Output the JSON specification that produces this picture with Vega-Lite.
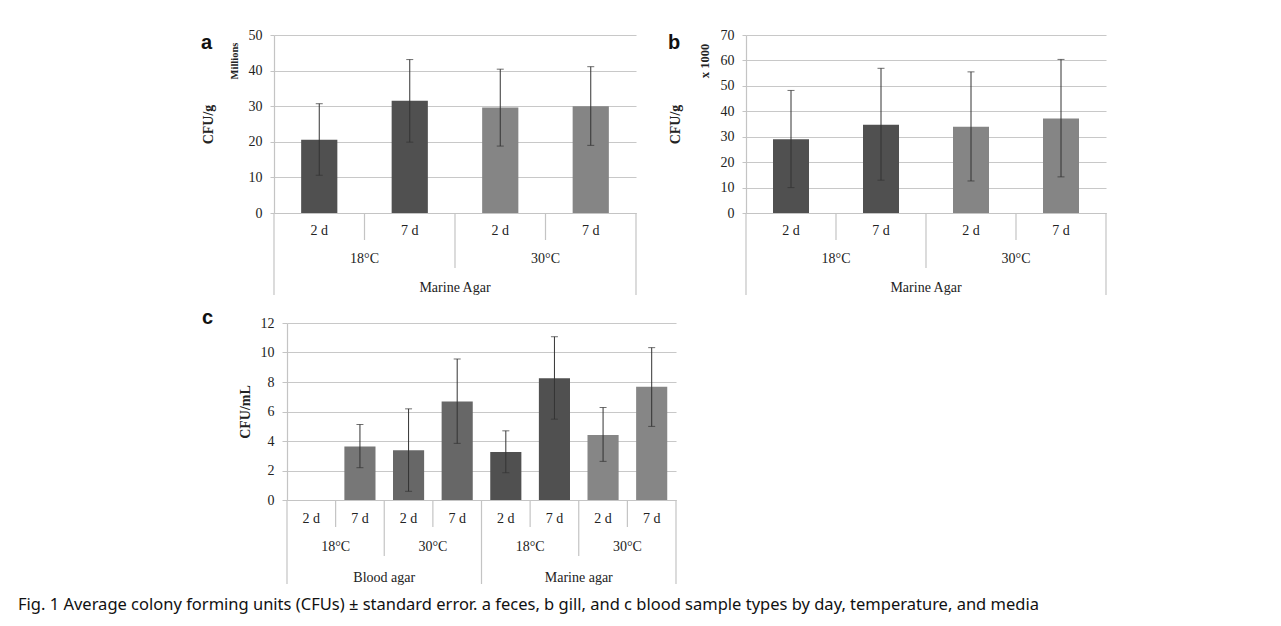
{
  "$schema": "https://vega.github.io/schema/vega-lite/v6.json",
  "padding": {"left": 18, "top": 28, "right": 5, "bottom": 5},
  "background": "white",
  "config": {
    "view": {"stroke": null},
    "axis": {"grid": false},
    "axisY": {"grid": true, "gridColor": "#c8c8c8", "gridWidth": 1.2, "domain": true, "domainColor": "#c4c4c4", "domainWidth": 1.2,
              "tickColor": "#c4c4c4", "labelFont": "Liberation Serif", "labelFontSize": 14, "labelColor": "#222", "labelOverlap": false,
              "titleFont": "Liberation Serif", "titleFontSize": 14, "titleFontWeight": "bold", "titleColor": "#222"},
    "font": "Liberation Serif"
  },
  "datasets": {
    "a": [
      {"media": "Marine Agar", "temp": "18°C", "day": "2 d", "key": "18°C 2 d", "mean": 20.6, "lo": 10.6, "hi": 30.7},
      {"media": "Marine Agar", "temp": "18°C", "day": "7 d", "key": "18°C 7 d", "mean": 31.5, "lo": 19.9, "hi": 43.1},
      {"media": "Marine Agar", "temp": "30°C", "day": "2 d", "key": "30°C 2 d", "mean": 29.6, "lo": 18.8, "hi": 40.4},
      {"media": "Marine Agar", "temp": "30°C", "day": "7 d", "key": "30°C 7 d", "mean": 30.0, "lo": 19.0, "hi": 41.1}
    ],
    "b": [
      {"media": "Marine Agar", "temp": "18°C", "day": "2 d", "key": "18°C 2 d", "mean": 29.0, "lo": 10.0, "hi": 48.2},
      {"media": "Marine Agar", "temp": "18°C", "day": "7 d", "key": "18°C 7 d", "mean": 34.7, "lo": 12.9, "hi": 56.9},
      {"media": "Marine Agar", "temp": "30°C", "day": "2 d", "key": "30°C 2 d", "mean": 33.9, "lo": 12.6, "hi": 55.5},
      {"media": "Marine Agar", "temp": "30°C", "day": "7 d", "key": "30°C 7 d", "mean": 37.2, "lo": 14.2, "hi": 60.4}
    ],
    "c": [
      {"media": "Blood agar", "temp": "18°C", "day": "2 d", "key": "Blood agar 18°C 2 d", "grp": "Blood agar 18°C", "mean": 0, "lo": null, "hi": null},
      {"media": "Blood agar", "temp": "18°C", "day": "7 d", "key": "Blood agar 18°C 7 d", "grp": "Blood agar 18°C", "mean": 3.63, "lo": 2.19, "hi": 5.12},
      {"media": "Blood agar", "temp": "30°C", "day": "2 d", "key": "Blood agar 30°C 2 d", "grp": "Blood agar 30°C", "mean": 3.38, "lo": 0.59, "hi": 6.18},
      {"media": "Blood agar", "temp": "30°C", "day": "7 d", "key": "Blood agar 30°C 7 d", "grp": "Blood agar 30°C", "mean": 6.68, "lo": 3.84, "hi": 9.56},
      {"media": "Marine agar", "temp": "18°C", "day": "2 d", "key": "Marine agar 18°C 2 d", "grp": "Marine agar 18°C", "mean": 3.25, "lo": 1.85, "hi": 4.69},
      {"media": "Marine agar", "temp": "18°C", "day": "7 d", "key": "Marine agar 18°C 7 d", "grp": "Marine agar 18°C", "mean": 8.25, "lo": 5.48, "hi": 11.07},
      {"media": "Marine agar", "temp": "30°C", "day": "2 d", "key": "Marine agar 30°C 2 d", "grp": "Marine agar 30°C", "mean": 4.40, "lo": 2.62, "hi": 6.27},
      {"media": "Marine agar", "temp": "30°C", "day": "7 d", "key": "Marine agar 30°C 7 d", "grp": "Marine agar 30°C", "mean": 7.67, "lo": 4.99, "hi": 10.33}
    ],
    "noteA": [{"note": "Millions"}],
    "noteB": [{"note": "x 1000"}]
  },
  "title": {
    "text": "Fig. 1 Average colony forming units (CFUs) ± standard error. a feces, b gill, and c blood sample types by day, temperature, and media",
    "orient": "bottom",
    "anchor": "start",
    "frame": "bounds",
    "font": "Noto Sans",
    "fontSize": 16.5,
    "fontWeight": "normal",
    "color": "#111",
    "offset": 12,
    "dx": -183
  },
  "resolve": {"scale": {"x": "independent", "y": "independent", "color": "independent"}},
  "spacing": 12,
  "vconcat": [
    {
      "spacing": 31,
      "resolve": {"scale": {"x": "independent", "y": "independent", "color": "independent"}},
      "hconcat": [
        {
          "width": 362,
          "height": 178,
          "data": {"name": "a"},
          "title": {"text": "a", "anchor": "start", "frame": "bounds", "font": "Liberation Sans", "fontSize": 20, "fontWeight": "bold", "color": "#111", "offset": -25},
          "encoding": {
            "x": {"field": "key", "type": "nominal", "sort": null, "scale": {"paddingInner": 0, "paddingOuter": 0},
                  "axis": {"labels": false, "ticks": false, "title": null, "domain": true, "domainColor": "#c4c4c4", "domainWidth": 1.2}}
          },
          "layer": [
            {
              "mark": {"type": "bar", "width": {"band": 0.4}},
              "encoding": {
                "y": {"field": "mean", "type": "quantitative", "scale": {"domain": [0, 50], "nice": false},
                      "axis": {"title": "CFU/g", "values": [0, 10, 20, 30, 40, 50], "tickSize": 4, "labelPadding": 8, "titlePadding": 33}},
                "color": {"field": "temp", "type": "nominal", "legend": null, "scale": {"domain": ["18°C", "30°C"], "range": ["#505050", "#858585"]}}
              }
            },
            {
              "mark": {"type": "rule", "color": "#333", "strokeWidth": 1},
              "encoding": {"y": {"field": "lo", "type": "quantitative", "axis": {"title": "CFU/g", "values": [0, 10, 20, 30, 40, 50], "tickSize": 4, "labelPadding": 8, "titlePadding": 33}}, "y2": {"field": "hi"}}
            },
            {
              "mark": {"type": "tick", "color": "#333", "size": 7, "thickness": 1},
              "encoding": {"y": {"field": "lo", "type": "quantitative", "axis": {"title": "CFU/g", "values": [0, 10, 20, 30, 40, 50], "tickSize": 4, "labelPadding": 8, "titlePadding": 33}}}
            },
            {
              "mark": {"type": "tick", "color": "#333", "size": 7, "thickness": 1},
              "encoding": {"y": {"field": "hi", "type": "quantitative", "axis": {"title": "CFU/g", "values": [0, 10, 20, 30, 40, 50], "tickSize": 4, "labelPadding": 8, "titlePadding": 33}}}
            },
            {
              "mark": {"type": "text", "font": "Liberation Serif", "fontSize": 14, "color": "#222", "baseline": "middle", "yOffset": 18},
              "encoding": {"y": {"datum": 0, "axis": {"title": "CFU/g", "values": [0, 10, 20, 30, 40, 50], "tickSize": 4, "labelPadding": 8, "titlePadding": 33}}, "text": {"field": "day"}}
            },
            {
              "transform": [{"filter": "datum.day == '7 d'"}],
              "mark": {"type": "text", "font": "Liberation Serif", "fontSize": 14, "color": "#222", "baseline": "middle", "yOffset": 46},
              "encoding": {"x": {"field": "key", "type": "nominal", "bandPosition": 0}, "y": {"datum": 0, "axis": {"title": "CFU/g", "values": [0, 10, 20, 30, 40, 50], "tickSize": 4, "labelPadding": 8, "titlePadding": 33}}, "text": {"field": "temp"}}
            },
            {
              "transform": [{"filter": "datum.temp == '30°C' && datum.day == '2 d'"}],
              "mark": {"type": "text", "font": "Liberation Serif", "fontSize": 14, "color": "#222", "baseline": "middle", "yOffset": 75},
              "encoding": {"x": {"field": "key", "type": "nominal", "bandPosition": 0}, "y": {"datum": 0, "axis": {"title": "CFU/g", "values": [0, 10, 20, 30, 40, 50], "tickSize": 4, "labelPadding": 8, "titlePadding": 33}}, "text": {"field": "media"}}
            },
            {
              "transform": [{"filter": "datum.day == '7 d'"}],
              "mark": {"type": "rule", "color": "#c4c4c4", "strokeWidth": 1.2, "y2Offset": 27},
              "encoding": {"x": {"field": "key", "type": "nominal", "bandPosition": 0}, "y": {"datum": 0, "axis": {"title": "CFU/g", "values": [0, 10, 20, 30, 40, 50], "tickSize": 4, "labelPadding": 8, "titlePadding": 33}}, "y2": {"datum": 0}}
            },
            {
              "transform": [{"filter": "datum.temp == '30°C' && datum.day == '2 d'"}],
              "mark": {"type": "rule", "color": "#c4c4c4", "strokeWidth": 1.2, "y2Offset": 55},
              "encoding": {"x": {"field": "key", "type": "nominal", "bandPosition": 0}, "y": {"datum": 0, "axis": {"title": "CFU/g", "values": [0, 10, 20, 30, 40, 50], "tickSize": 4, "labelPadding": 8, "titlePadding": 33}}, "y2": {"datum": 0}}
            },
            {
              "transform": [{"filter": "datum.temp == '18°C' && datum.day == '2 d'"}],
              "mark": {"type": "rule", "color": "#c4c4c4", "strokeWidth": 1.2, "y2Offset": 82},
              "encoding": {"x": {"field": "key", "type": "nominal", "bandPosition": 0}, "y": {"datum": 0, "axis": {"title": "CFU/g", "values": [0, 10, 20, 30, 40, 50], "tickSize": 4, "labelPadding": 8, "titlePadding": 33}}, "y2": {"datum": 0}}
            },
            {
              "transform": [{"filter": "datum.temp == '30°C' && datum.day == '7 d'"}],
              "mark": {"type": "rule", "color": "#c4c4c4", "strokeWidth": 1.2, "y2Offset": 82},
              "encoding": {"x": {"field": "key", "type": "nominal", "bandPosition": 1}, "y": {"datum": 0, "axis": {"title": "CFU/g", "values": [0, 10, 20, 30, 40, 50], "tickSize": 4, "labelPadding": 8, "titlePadding": 33}}, "y2": {"datum": 0}}
            },
            {
              "data": {"name": "noteA"},
              "mark": {"type": "text", "font": "Liberation Serif", "fontSize": 10.5, "fontWeight": "bold", "color": "#222", "angle": 270, "align": "center", "baseline": "middle", "xOffset": -39, "yOffset": 26},
              "encoding": {"x": {"datum": "18°C 2 d", "bandPosition": 0}, "y": {"datum": 50, "axis": {"title": "CFU/g", "values": [0, 10, 20, 30, 40, 50], "tickSize": 4, "labelPadding": 8, "titlePadding": 33}}, "text": {"field": "note"}}
            }
          ]
        },
        {
          "width": 360,
          "height": 178,
          "data": {"name": "b"},
          "title": {"text": "b", "anchor": "start", "frame": "bounds", "font": "Liberation Sans", "fontSize": 20, "fontWeight": "bold", "color": "#111", "offset": -25},
          "encoding": {
            "x": {"field": "key", "type": "nominal", "sort": null, "scale": {"paddingInner": 0, "paddingOuter": 0},
                  "axis": {"labels": false, "ticks": false, "title": null, "domain": true, "domainColor": "#c4c4c4", "domainWidth": 1.2}}
          },
          "layer": [
            {
              "mark": {"type": "bar", "width": {"band": 0.4}},
              "encoding": {
                "y": {"field": "mean", "type": "quantitative", "scale": {"domain": [0, 70], "nice": false},
                      "axis": {"title": "CFU/g", "values": [0, 10, 20, 30, 40, 50, 60, 70], "tickSize": 4, "labelPadding": 8, "titlePadding": 38}},
                "color": {"field": "temp", "type": "nominal", "legend": null, "scale": {"domain": ["18°C", "30°C"], "range": ["#505050", "#858585"]}}
              }
            },
            {
              "mark": {"type": "rule", "color": "#333", "strokeWidth": 1},
              "encoding": {"y": {"field": "lo", "type": "quantitative", "axis": {"title": "CFU/g", "values": [0, 10, 20, 30, 40, 50, 60, 70], "tickSize": 4, "labelPadding": 8, "titlePadding": 38}}, "y2": {"field": "hi"}}
            },
            {
              "mark": {"type": "tick", "color": "#333", "size": 7, "thickness": 1},
              "encoding": {"y": {"field": "lo", "type": "quantitative", "axis": {"title": "CFU/g", "values": [0, 10, 20, 30, 40, 50, 60, 70], "tickSize": 4, "labelPadding": 8, "titlePadding": 38}}}
            },
            {
              "mark": {"type": "tick", "color": "#333", "size": 7, "thickness": 1},
              "encoding": {"y": {"field": "hi", "type": "quantitative", "axis": {"title": "CFU/g", "values": [0, 10, 20, 30, 40, 50, 60, 70], "tickSize": 4, "labelPadding": 8, "titlePadding": 38}}}
            },
            {
              "mark": {"type": "text", "font": "Liberation Serif", "fontSize": 14, "color": "#222", "baseline": "middle", "yOffset": 18},
              "encoding": {"y": {"datum": 0, "axis": {"title": "CFU/g", "values": [0, 10, 20, 30, 40, 50, 60, 70], "tickSize": 4, "labelPadding": 8, "titlePadding": 38}}, "text": {"field": "day"}}
            },
            {
              "transform": [{"filter": "datum.day == '7 d'"}],
              "mark": {"type": "text", "font": "Liberation Serif", "fontSize": 14, "color": "#222", "baseline": "middle", "yOffset": 46},
              "encoding": {"x": {"field": "key", "type": "nominal", "bandPosition": 0}, "y": {"datum": 0, "axis": {"title": "CFU/g", "values": [0, 10, 20, 30, 40, 50, 60, 70], "tickSize": 4, "labelPadding": 8, "titlePadding": 38}}, "text": {"field": "temp"}}
            },
            {
              "transform": [{"filter": "datum.temp == '30°C' && datum.day == '2 d'"}],
              "mark": {"type": "text", "font": "Liberation Serif", "fontSize": 14, "color": "#222", "baseline": "middle", "yOffset": 75},
              "encoding": {"x": {"field": "key", "type": "nominal", "bandPosition": 0}, "y": {"datum": 0, "axis": {"title": "CFU/g", "values": [0, 10, 20, 30, 40, 50, 60, 70], "tickSize": 4, "labelPadding": 8, "titlePadding": 38}}, "text": {"field": "media"}}
            },
            {
              "transform": [{"filter": "datum.day == '7 d'"}],
              "mark": {"type": "rule", "color": "#c4c4c4", "strokeWidth": 1.2, "y2Offset": 27},
              "encoding": {"x": {"field": "key", "type": "nominal", "bandPosition": 0}, "y": {"datum": 0, "axis": {"title": "CFU/g", "values": [0, 10, 20, 30, 40, 50, 60, 70], "tickSize": 4, "labelPadding": 8, "titlePadding": 38}}, "y2": {"datum": 0}}
            },
            {
              "transform": [{"filter": "datum.temp == '30°C' && datum.day == '2 d'"}],
              "mark": {"type": "rule", "color": "#c4c4c4", "strokeWidth": 1.2, "y2Offset": 55},
              "encoding": {"x": {"field": "key", "type": "nominal", "bandPosition": 0}, "y": {"datum": 0, "axis": {"title": "CFU/g", "values": [0, 10, 20, 30, 40, 50, 60, 70], "tickSize": 4, "labelPadding": 8, "titlePadding": 38}}, "y2": {"datum": 0}}
            },
            {
              "transform": [{"filter": "datum.temp == '18°C' && datum.day == '2 d'"}],
              "mark": {"type": "rule", "color": "#c4c4c4", "strokeWidth": 1.2, "y2Offset": 82},
              "encoding": {"x": {"field": "key", "type": "nominal", "bandPosition": 0}, "y": {"datum": 0, "axis": {"title": "CFU/g", "values": [0, 10, 20, 30, 40, 50, 60, 70], "tickSize": 4, "labelPadding": 8, "titlePadding": 38}}, "y2": {"datum": 0}}
            },
            {
              "transform": [{"filter": "datum.temp == '30°C' && datum.day == '7 d'"}],
              "mark": {"type": "rule", "color": "#c4c4c4", "strokeWidth": 1.2, "y2Offset": 82},
              "encoding": {"x": {"field": "key", "type": "nominal", "bandPosition": 1}, "y": {"datum": 0, "axis": {"title": "CFU/g", "values": [0, 10, 20, 30, 40, 50, 60, 70], "tickSize": 4, "labelPadding": 8, "titlePadding": 38}}, "y2": {"datum": 0}}
            },
            {
              "data": {"name": "noteB"},
              "mark": {"type": "text", "font": "Liberation Serif", "fontSize": 12.5, "fontWeight": "bold", "color": "#222", "angle": 270, "align": "center", "baseline": "middle", "xOffset": -41, "yOffset": 26},
              "encoding": {"x": {"datum": "18°C 2 d", "bandPosition": 0}, "y": {"datum": 70, "axis": {"title": "CFU/g", "values": [0, 10, 20, 30, 40, 50, 60, 70], "tickSize": 4, "labelPadding": 8, "titlePadding": 38}}, "text": {"field": "note"}}
            }
          ]
        }
      ]
    },
    {
      "width": 402,
      "height": 177,
      "data": {"name": "c"},
      "title": {"text": "c", "anchor": "start", "frame": "bounds", "font": "Liberation Sans", "fontSize": 20, "fontWeight": "bold", "color": "#111", "offset": -12, "dx": -36},
      "encoding": {
        "x": {"field": "key", "type": "nominal", "sort": null, "scale": {"paddingInner": 0, "paddingOuter": 0, "range": [13, 402]},
              "axis": {"labels": false, "ticks": false, "title": null, "domain": true, "domainColor": "#c4c4c4", "domainWidth": 1.2}}
      },
      "layer": [
        {
          "mark": {"type": "bar", "width": {"band": 0.64}},
          "encoding": {
            "y": {"field": "mean", "type": "quantitative", "scale": {"domain": [0, 12], "nice": false},
                  "axis": {"title": "CFU/mL", "values": [0, 2, 4, 6, 8, 10, 12], "offset": -13, "tickSize": 5, "labelPadding": 8, "titlePadding": 8}},
            "color": {"field": "grp", "type": "nominal", "legend": null,
                      "scale": {"domain": ["Blood agar 18°C", "Blood agar 30°C", "Marine agar 18°C", "Marine agar 30°C"], "range": ["#777777", "#676767", "#505050", "#868686"]}}
          }
        },
        {
          "mark": {"type": "rule", "color": "#333", "strokeWidth": 1},
          "encoding": {"y": {"field": "lo", "type": "quantitative", "axis": {"title": "CFU/mL", "values": [0, 2, 4, 6, 8, 10, 12], "offset": -13, "tickSize": 5, "labelPadding": 8, "titlePadding": 8}}, "y2": {"field": "hi"}}
        },
        {
          "mark": {"type": "tick", "color": "#333", "size": 7, "thickness": 1},
          "encoding": {"y": {"field": "lo", "type": "quantitative", "axis": {"title": "CFU/mL", "values": [0, 2, 4, 6, 8, 10, 12], "offset": -13, "tickSize": 5, "labelPadding": 8, "titlePadding": 8}}}
        },
        {
          "mark": {"type": "tick", "color": "#333", "size": 7, "thickness": 1},
          "encoding": {"y": {"field": "hi", "type": "quantitative", "axis": {"title": "CFU/mL", "values": [0, 2, 4, 6, 8, 10, 12], "offset": -13, "tickSize": 5, "labelPadding": 8, "titlePadding": 8}}}
        },
        {
          "mark": {"type": "text", "font": "Liberation Serif", "fontSize": 14, "color": "#222", "baseline": "middle", "yOffset": 19},
          "encoding": {"y": {"datum": 0, "axis": {"title": "CFU/mL", "values": [0, 2, 4, 6, 8, 10, 12], "offset": -13, "tickSize": 5, "labelPadding": 8, "titlePadding": 8}}, "text": {"field": "day"}}
        },
        {
          "transform": [{"filter": "datum.day == '7 d'"}],
          "mark": {"type": "text", "font": "Liberation Serif", "fontSize": 14, "color": "#222", "baseline": "middle", "yOffset": 47},
          "encoding": {"x": {"field": "key", "type": "nominal", "bandPosition": 0}, "y": {"datum": 0, "axis": {"title": "CFU/mL", "values": [0, 2, 4, 6, 8, 10, 12], "offset": -13, "tickSize": 5, "labelPadding": 8, "titlePadding": 8}}, "text": {"field": "temp"}}
        },
        {
          "transform": [{"filter": "datum.temp == '30°C' && datum.day == '2 d'"}],
          "mark": {"type": "text", "font": "Liberation Serif", "fontSize": 14, "color": "#222", "baseline": "middle", "yOffset": 78},
          "encoding": {"x": {"field": "key", "type": "nominal", "bandPosition": 0}, "y": {"datum": 0, "axis": {"title": "CFU/mL", "values": [0, 2, 4, 6, 8, 10, 12], "offset": -13, "tickSize": 5, "labelPadding": 8, "titlePadding": 8}}, "text": {"field": "media"}}
        },
        {
          "transform": [{"filter": "datum.day == '7 d'"}],
          "mark": {"type": "rule", "color": "#c4c4c4", "strokeWidth": 1.2, "y2Offset": 27},
          "encoding": {"x": {"field": "key", "type": "nominal", "bandPosition": 0}, "y": {"datum": 0, "axis": {"title": "CFU/mL", "values": [0, 2, 4, 6, 8, 10, 12], "offset": -13, "tickSize": 5, "labelPadding": 8, "titlePadding": 8}}, "y2": {"datum": 0}}
        },
        {
          "transform": [{"filter": "datum.temp == '30°C' && datum.day == '2 d'"}],
          "mark": {"type": "rule", "color": "#c4c4c4", "strokeWidth": 1.2, "y2Offset": 56},
          "encoding": {"x": {"field": "key", "type": "nominal", "bandPosition": 0}, "y": {"datum": 0, "axis": {"title": "CFU/mL", "values": [0, 2, 4, 6, 8, 10, 12], "offset": -13, "tickSize": 5, "labelPadding": 8, "titlePadding": 8}}, "y2": {"datum": 0}}
        },
        {
          "transform": [{"filter": "datum.temp == '18°C' && datum.day == '2 d'"}],
          "mark": {"type": "rule", "color": "#c4c4c4", "strokeWidth": 1.2, "y2Offset": 84},
          "encoding": {"x": {"field": "key", "type": "nominal", "bandPosition": 0}, "y": {"datum": 0, "axis": {"title": "CFU/mL", "values": [0, 2, 4, 6, 8, 10, 12], "offset": -13, "tickSize": 5, "labelPadding": 8, "titlePadding": 8}}, "y2": {"datum": 0}}
        },
        {
          "transform": [{"filter": "datum.media == 'Marine agar' && datum.temp == '30°C' && datum.day == '7 d'"}],
          "mark": {"type": "rule", "color": "#c4c4c4", "strokeWidth": 1.2, "y2Offset": 84},
          "encoding": {"x": {"field": "key", "type": "nominal", "bandPosition": 1}, "y": {"datum": 0, "axis": {"title": "CFU/mL", "values": [0, 2, 4, 6, 8, 10, 12], "offset": -13, "tickSize": 5, "labelPadding": 8, "titlePadding": 8}}, "y2": {"datum": 0}}
        }
      ]
    }
  ]
}
